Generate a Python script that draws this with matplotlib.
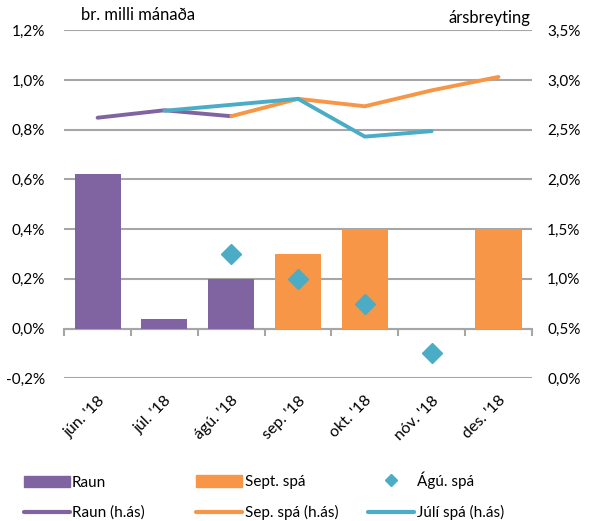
import matplotlib
matplotlib.use("Agg")
import matplotlib.pyplot as plt
from matplotlib.patches import Patch
from matplotlib.lines import Line2D
from matplotlib.ticker import FuncFormatter
import numpy as np

plt.rcParams['font.family'] = ['Lato', 'DejaVu Sans']

months = ["jún. '18", "júl. '18", "ágú. '18", "sep. '18", "okt. '18", "nóv. '18", "des. '18"]
nan = np.nan

# bars, left axis (% month on month)
raun = [0.62, 0.04, 0.20, nan, nan, nan, nan]
sept_spa = [nan, nan, nan, 0.30, 0.40, nan, 0.40]
# diamonds, left axis
agu_spa = [nan, nan, 0.30, 0.20, 0.10, -0.10, nan]

# lines, right axis (% year on year)
raun_has = [2.62, 2.695, 2.635, nan, nan, nan, nan]
sep_has = [nan, nan, 2.635, 2.81, 2.735, 2.895, 3.03]
juli_has = [nan, 2.69, 2.75, 2.81, 2.43, 2.485, nan]

purple = "#8064A2"
orange = "#F79646"
teal = "#4BACC6"
grid = "#a6a6a6"

x = np.arange(len(months))

fig = plt.figure(figsize=(5.89, 5.21), dpi=100)
ax = fig.add_axes([0.109, 0.274, 0.794, 0.668])

ax.bar(x, raun, width=0.69, color=purple, zorder=2)
ax.bar(x, sept_spa, width=0.69, color=orange, zorder=2)
ax.plot(x, agu_spa, linestyle="none", marker="D", markersize=10, color=teal, zorder=3)

ax.set_xlim(-0.5, len(months) - 0.5)
ax.set_ylim(-0.2, 1.2)
ax.set_yticks(np.arange(-0.2, 1.21, 0.2))
ax.yaxis.set_major_formatter(FuncFormatter(lambda v, p: f"{v:.1f}%".replace(".", ",")))
ax.tick_params(axis="y", length=0, pad=14, labelsize=11)
ax.grid(axis="y", color=grid, linewidth=1.5, zorder=0)
ax.set_axisbelow(True)
for s in ax.spines.values():
    s.set_visible(False)

ax.set_xticks(x)
ax.set_xticklabels(months, rotation=45, ha="right", rotation_mode="anchor", fontsize=11.5)
ax.tick_params(axis="x", length=0, pad=11)

# category axis at zero
sec = ax.secondary_xaxis(0.2 / 1.4)
sec.set_xticks(np.arange(-0.5, len(months), 1.0))
sec.set_xticklabels([])
sec.tick_params(axis="x", length=5, width=1.5, color=grid, direction="out")
sec.spines["bottom"].set_color(grid)
sec.spines["bottom"].set_linewidth(1.5)

ax2 = ax.twinx()
ax2.plot(x, raun_has, color=purple, linewidth=2.8, solid_capstyle="round")
ax2.plot(x, sep_has, color=orange, linewidth=2.8, solid_capstyle="round")
ax2.plot(x, juli_has, color=teal, linewidth=2.8, solid_capstyle="round")
ax2.set_ylim(0, 3.5)
ax2.set_yticks(np.arange(0, 3.51, 0.5))
ax2.yaxis.set_major_formatter(FuncFormatter(lambda v, p: f"{v:.1f}%".replace(".", ",")))
ax2.tick_params(axis="y", length=0, pad=11, labelsize=11)
for s in ax2.spines.values():
    s.set_visible(False)

fig.text(0.137, 0.971, "br. milli mánaða", fontsize=12, va="center")
fig.text(0.900, 0.965, "ársbreyting", fontsize=12, va="center", ha="right")

# legend in three columns
cols = [
    ([Patch(color=purple), Line2D([], [], color=purple, linewidth=3, solid_capstyle="round")],
     ["Raun", "Raun (h.ás)"], 0.025),
    ([Patch(color=orange), Line2D([], [], color=orange, linewidth=3, solid_capstyle="round")],
     ["Sept. spá", "Sep. spá (h.ás)"], 0.318),
    ([Line2D([], [], linestyle="none", marker="D", markersize=6, color=teal),
      Line2D([], [], color=teal, linewidth=3, solid_capstyle="round")],
     ["Ágú. spá", "Júlí spá (h.ás)"], 0.610),
]
for handles, labels, xpos in cols:
    leg = fig.legend(handles, labels, loc="lower left", bbox_to_anchor=(xpos, -0.016),
                     frameon=False, fontsize=11, handlelength=3.0, handleheight=0.8,
                     handletextpad=0.15, labelspacing=1.05, borderaxespad=0.2)

fig.savefig("out.png", dpi=100)
